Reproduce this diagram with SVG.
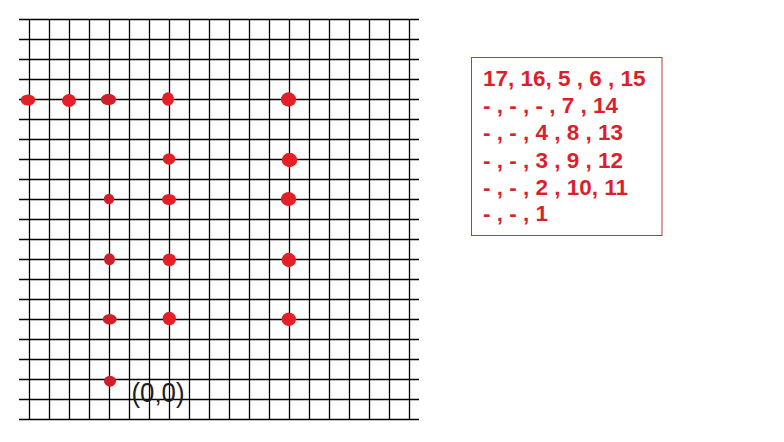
<svg xmlns="http://www.w3.org/2000/svg" width="784" height="442" viewBox="0 0 784 442">
  <style>
    .grid line { stroke: #000; stroke-width: 1.3; }
    .dot { fill: #e41f28; }
    .dk { fill: #cf1f2a; }
    .tbl { font-family: "Liberation Sans", Arial, sans-serif; font-weight: bold; font-size: 22.5px; fill: #dc1f2c; }
    .lbl { font-family: "Liberation Sans", Arial, sans-serif; font-size: 27px; fill: #1e1e1e; }
  </style>
  <rect width="784" height="442" fill="#fff"/>
  <g id="grid" class="grid">
    <g id="hlines">
      <line x1="19" y1="19.5" x2="419" y2="19.5"/>
      <line x1="19" y1="39.5" x2="419" y2="39.5"/>
      <line x1="19" y1="59.5" x2="419" y2="59.5"/>
      <line x1="19" y1="79.5" x2="419" y2="79.5"/>
      <line x1="19" y1="99.5" x2="419" y2="99.5"/>
      <line x1="19" y1="119.5" x2="419" y2="119.5"/>
      <line x1="19" y1="139.5" x2="419" y2="139.5"/>
      <line x1="19" y1="159.5" x2="419" y2="159.5"/>
      <line x1="19" y1="179.5" x2="419" y2="179.5"/>
      <line x1="19" y1="199.5" x2="419" y2="199.5"/>
      <line x1="19" y1="219.5" x2="419" y2="219.5"/>
      <line x1="19" y1="239.5" x2="419" y2="239.5"/>
      <line x1="19" y1="259.5" x2="419" y2="259.5"/>
      <line x1="19" y1="279.5" x2="419" y2="279.5"/>
      <line x1="19" y1="299.5" x2="419" y2="299.5"/>
      <line x1="19" y1="319.5" x2="419" y2="319.5"/>
      <line x1="19" y1="339.5" x2="419" y2="339.5"/>
      <line x1="19" y1="359.5" x2="419" y2="359.5"/>
      <line x1="19" y1="379.5" x2="419" y2="379.5"/>
      <line x1="19" y1="399.5" x2="419" y2="399.5"/>
      <line x1="19" y1="419.5" x2="419" y2="419.5"/>
    </g>
    <g id="vlines">
      <line x1="29.5" y1="19" x2="29.5" y2="420"/>
      <line x1="49.5" y1="19" x2="49.5" y2="420"/>
      <line x1="69.5" y1="19" x2="69.5" y2="420"/>
      <line x1="89.5" y1="19" x2="89.5" y2="420"/>
      <line x1="109.5" y1="19" x2="109.5" y2="420"/>
      <line x1="129.5" y1="19" x2="129.5" y2="420"/>
      <line x1="149.5" y1="19" x2="149.5" y2="420"/>
      <line x1="169.5" y1="19" x2="169.5" y2="420"/>
      <line x1="189.5" y1="19" x2="189.5" y2="420"/>
      <line x1="209.5" y1="19" x2="209.5" y2="420"/>
      <line x1="229.5" y1="19" x2="229.5" y2="420"/>
      <line x1="249.5" y1="19" x2="249.5" y2="420"/>
      <line x1="269.5" y1="19" x2="269.5" y2="420"/>
      <line x1="289.5" y1="19" x2="289.5" y2="420"/>
      <line x1="309.5" y1="19" x2="309.5" y2="420"/>
      <line x1="329.5" y1="19" x2="329.5" y2="420"/>
      <line x1="349.5" y1="19" x2="349.5" y2="420"/>
      <line x1="369.5" y1="19" x2="369.5" y2="420"/>
      <line x1="389.5" y1="19" x2="389.5" y2="420"/>
      <line x1="409.5" y1="19" x2="409.5" y2="420"/>
    </g>
  </g>
  <g id="connectors"></g>
  <g id="p17"><ellipse class="dot" cx="28" cy="100" rx="7.3" ry="5.5"/></g>
  <g id="p16"><ellipse class="dot" cx="69" cy="100.5" rx="7" ry="6.5"/></g>
  <g id="p5"><ellipse class="dk" cx="108.5" cy="99.5" rx="7.6" ry="5.8"/></g>
  <g id="p6"><ellipse class="dot" cx="168" cy="99" rx="6" ry="6.8"/></g>
  <g id="p15"><ellipse class="dot" cx="288.5" cy="99.5" rx="7.7" ry="7.2"/></g>
  <g id="p7"><ellipse class="dot" cx="169" cy="159" rx="6.3" ry="5.8"/></g>
  <g id="p14"><ellipse class="dot" cx="289.5" cy="160" rx="7.8" ry="7.2"/></g>
  <g id="p4"><ellipse class="dk" cx="109" cy="199" rx="5.2" ry="5.2"/></g>
  <g id="p8"><ellipse class="dot" cx="169" cy="199.5" rx="7" ry="5.6"/></g>
  <g id="p13"><ellipse class="dot" cx="288.5" cy="199" rx="7.7" ry="7"/></g>
  <g id="p3"><ellipse class="dk" cx="109.5" cy="259.3" rx="5.5" ry="6"/></g>
  <g id="p9"><ellipse class="dot" cx="169.3" cy="259.7" rx="6.7" ry="6.3"/></g>
  <g id="p12"><ellipse class="dot" cx="288.8" cy="260" rx="7.2" ry="7.2"/></g>
  <g id="p2"><ellipse class="dk" cx="109.7" cy="319.2" rx="7" ry="5.2"/></g>
  <g id="p10"><ellipse class="dot" cx="169.3" cy="318.5" rx="6.7" ry="6.7"/></g>
  <g id="p11"><ellipse class="dot" cx="288.8" cy="319.3" rx="7.2" ry="6.7"/></g>
  <g id="p1"><ellipse class="dk" cx="110" cy="381.2" rx="6" ry="5.5"/></g>
  <g id="origin-label"><text class="lbl" x="131.5" y="402" textLength="53" lengthAdjust="spacingAndGlyphs">(0,0)</text></g>
  <g id="order-table">
    <rect x="471.5" y="57.5" width="190.5" height="178" fill="none" stroke="#b83a3a" stroke-width="1"/>
    <text class="tbl" x="483" y="86">17, 16, 5 , 6 , 15</text>
    <text class="tbl" x="483" y="113">- , - , - , 7 , 14</text>
    <text class="tbl" x="483" y="140">- , - , 4 , 8 , 13</text>
    <text class="tbl" x="483" y="168">- , - , 3 , 9 , 12</text>
    <text class="tbl" x="483" y="195">- , - , 2 , 10, 11</text>
    <text class="tbl" x="483" y="221">- , - , 1</text>
  </g>
</svg>
